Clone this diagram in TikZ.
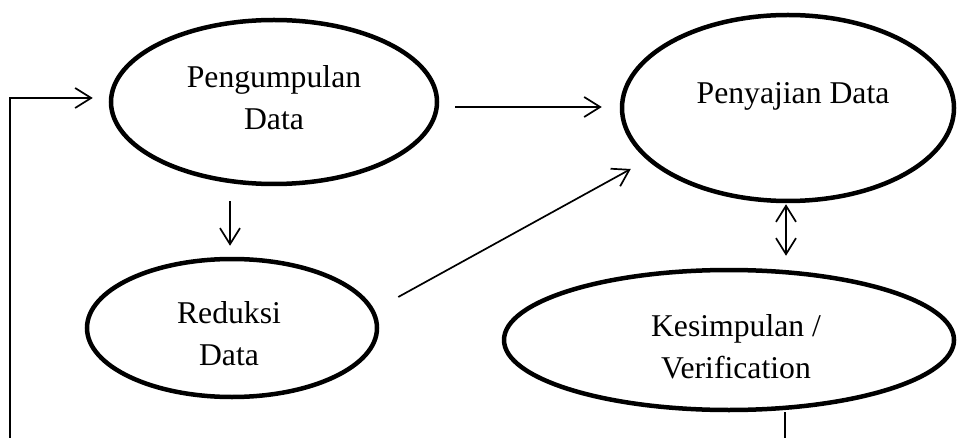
\documentclass[tikz,border=0pt]{standalone}
\usepackage{fontspec}
\setmainfont{Liberation Serif}
\usetikzlibrary{shapes.geometric,arrows.meta}
\tikzset{
  ell/.style={draw, ellipse, line width=4.5pt, inner sep=0pt},
  lbl/.style={align=center, inner sep=0pt, font=\fontsize{31.7}{42}\selectfont},
  arr/.style={line width=1.7pt, -{Straight Barb[length=16pt,width=20pt,line width=1.7pt]}},
  darr/.style={line width=1.7pt, {Straight Barb[length=16pt,width=20pt,line width=1.7pt]}-{Straight Barb[length=16pt,width=20pt,line width=1.7pt]}},
  plain/.style={line width=1.2pt}
}
\begin{document}
\begin{tikzpicture}[x=1pt,y=-1pt]
\useasboundingbox (0,0) rectangle (957,438);
% ellipses
\node[ell, minimum width=326pt, minimum height=164pt] (pg) at (274,102) {};
\node[ell, minimum width=332pt, minimum height=186pt] (pj) at (788,108) {};
\node[ell, minimum width=290pt, minimum height=138pt] (rd) at (232,328) {};
\node[ell, minimum width=450pt, minimum height=140pt] (ks) at (729,340) {};
% labels
\node[lbl] (tpg) at (274,98) {Pengumpulan\\Data};
\node[lbl] (tpj) at (793,96) {Penyajian Data};
\node[lbl] (trd) at (229,334) {Reduksi\\Data};
\node[lbl] (tks) at (736,347) {Kesimpulan /\\Verification};
% free ends
\coordinate (lb) at (10,440);
\coordinate (rb) at (785,440);
% connectors
\draw[arr] ([xshift=16pt,yshift=-5pt]pg.east) -- ([xshift=-18pt,yshift=1pt]pj.west);
\draw[arr] ([xshift=-44pt,yshift=-15pt]pg.south) -- ([xshift=-2pt,yshift=11pt]rd.north);
\draw[arr] ([xshift=19pt,yshift=31pt]rd.east) -- ([xshift=11pt,yshift=-61pt]pj.west);
\draw[darr] ([xshift=-2pt,yshift=-1pt]pj.south) -- ([xshift=57pt,yshift=12pt]ks.north);
\draw[arr] (lb) |- ([xshift=-16pt,yshift=4pt]pg.west);
\draw[plain] (rb) -- (rb |- ks.south);
\end{tikzpicture}
\end{document}
